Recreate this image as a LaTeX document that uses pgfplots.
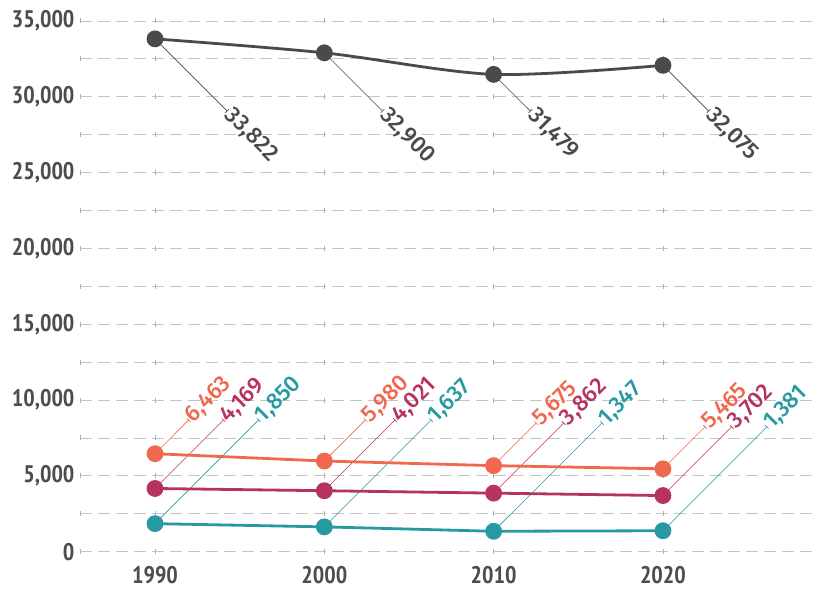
\documentclass[border=0pt]{standalone}
\usepackage{fontspec}
\setmainfont{PT Sans Narrow}
\newfontfamily\labfont{Fira Sans}[UprightFont={* Medium}]
\usepackage{pgfplots}
\pgfplotsset{compat=1.18}
\usepackage{pgfplotstable}
\usetikzlibrary{arrows.meta}
\definecolor{darkc}{HTML}{4A4A4C}
\definecolor{orangec}{HTML}{F0694F}
\definecolor{purplec}{HTML}{B6335D}
\definecolor{tealc}{HTML}{2799A2}
\definecolor{gridc}{HTML}{C4C4C4}
\definecolor{crossc}{HTML}{B0B0B0}
\definecolor{labc}{HTML}{4D4D4F}

% x y u v   (u,v: offset of the label end)
\pgfplotstableread{
x y u v
1990 33822 4.27 -4772
2000 32900 3.45 -3850
2010 31479 2.18 -2429
2020 32075 2.71 -3025
}\darkT
\pgfplotstableread{
x y u v
1990 6463 2.00 2237
2000 5980 2.44 2720
2010 5675 2.53 2825
2020 5465 2.49 2785
}\orangeT
\pgfplotstableread{
x y u v
1990 4169 4.06 4531
2000 4021 4.19 4679
2010 3862 4.15 4638
2020 3702 4.07 4548
}\purpleT
\pgfplotstableread{
x y u v
1990 1850 6.13 6850
2000 1637 6.33 7063
2010 1347 6.41 7153
2020 1381 6.15 6869
}\tealT

\pgfplotsset{
  leader/.style={line width=0.6pt, quiver={u=\thisrow{u}, v=\thisrow{v}}, -{Bar[width=5pt, line width=0.6pt]}, mark=none, forget plot},
  series/.style={#1, line width=2.8pt, mark=*, mark size=7pt, mark options={solid, fill=#1, draw=#1}},
  vlabel/.style 2 args={draw=none, mark=none, forget plot,
    nodes near coords={\labfont\fontsize{23}{23}\selectfont\pgfmathprintnumber[1000 sep={,}, assume math mode=true]{\pgfplotspointmeta}},
    point meta=\thisrow{y},
    every node near coord/.append style={rotate=#2, anchor=west, inner sep=1pt, text=#1}},
}

\begin{document}
\begin{tikzpicture}
\begin{axis}[name=ax, scale only axis, width=735pt, height=530.7pt,
  xmin=1985.57, xmax=2028.98, ymin=0, ymax=35000,
  clip=false,
  axis line style={draw=none},
  xtick={1990,2000,2010,2020},
  ytick={0,5000,10000,15000,20000,25000,30000,35000},
  minor ytick={2500,7500,12500,17500,22500,27500,32500},
  major tick length=0pt, minor tick length=0pt,
  ymajorgrids, yminorgrids,
  major grid style={dash pattern=on 12pt off 6pt, line width=0.9pt, gridc},
  minor grid style={dash pattern=on 12pt off 6pt, line width=0.9pt, gridc},
  tick label style={font=\bfseries\fontsize{24}{24}\selectfont, text=labc},
  yticklabel style={xshift=-2pt, /pgf/number format/.cd, 1000 sep={,}, assume math mode=true},
  xticklabel style={yshift=-11pt, /pgf/number format/.cd, 1000 sep={}, assume math mode=true},
  scaled y ticks=false,
]
\pgfplotsinvokeforeach{0,2500,5000,7500,10000,12500,15000,17500,20000,22500,25000,27500,30000,32500,35000}{
  \addplot[only marks, mark=|, mark size=2.5pt, mark options={line width=0.6pt, crossc}, forget plot]
    coordinates {(1985.57,#1) (1990,#1) (2000,#1) (2010,#1) (2020,#1)};
}
\addplot[leader, darkc] table[x=x, y=y] {\darkT};
\addplot[leader, orangec] table[x=x, y=y] {\orangeT};
\addplot[leader, purplec] table[x=x, y=y] {\purpleT};
\addplot[leader, tealc] table[x=x, y=y] {\tealT};

\addplot[series=darkc, smooth] table[x=x, y=y] {\darkT};
\addplot[series=orangec] table[x=x, y=y] {\orangeT};
\addplot[series=purplec] table[x=x, y=y] {\purpleT};
\addplot[series=tealc] table[x=x, y=y] {\tealT};

\addplot[vlabel={darkc}{-45}] table[x expr=\thisrow{x}+\thisrow{u}, y expr=\thisrow{y}+\thisrow{v}] {\darkT};
\addplot[vlabel={orangec}{45}] table[x expr=\thisrow{x}+\thisrow{u}, y expr=\thisrow{y}+\thisrow{v}] {\orangeT};
\addplot[vlabel={purplec}{45}] table[x expr=\thisrow{x}+\thisrow{u}, y expr=\thisrow{y}+\thisrow{v}] {\purpleT};
\addplot[vlabel={tealc}{45}] table[x expr=\thisrow{x}+\thisrow{u}, y expr=\thisrow{y}+\thisrow{v}] {\tealT};
\end{axis}
\pgfresetboundingbox
\path[use as bounding box] ([shift={(-80pt,-40.3pt)}]ax.south west) rectangle ([shift={(0pt,21pt)}]ax.north east);
\end{tikzpicture}
\end{document}
